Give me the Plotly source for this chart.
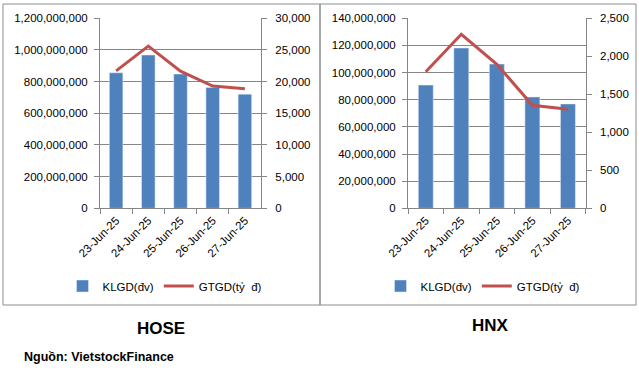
import plotly.graph_objects as go

dates = ["23-Jun-25", "24-Jun-25", "25-Jun-25", "26-Jun-25", "27-Jun-25"]
hose_klgd = [856e6, 968e6, 848e6, 763e6, 721e6]
hose_gtgd = [21700, 25620, 21650, 19300, 18870]
hnx_klgd = [90.8e6, 118.1e6, 106.3e6, 82.0e6, 76.9e6]
hnx_gtgd = [1797, 2289, 1895, 1355, 1303]

W, H = 639, 373
BAR = "#4F81BD"
LINE = "#C0504D"
GRID = "#868686"
FONT = "Liberation Sans"
TF = dict(family=FONT, size=11.5, color="#000000")

def px(x):
    return x / W

def py(y):
    return 1 - y / H

fig = go.Figure()
fig.add_trace(go.Bar(x=dates, y=hose_klgd, name="KLGD(đv)", marker_color=BAR,
                     xaxis="x", yaxis="y", legend="legend"))
fig.add_trace(go.Scatter(x=dates, y=hose_gtgd, name="GTGD(tỷ\u00a0 đ)", mode="lines",
                         line=dict(color=LINE, width=3), xaxis="x", yaxis="y2", legend="legend"))
fig.add_trace(go.Bar(x=dates, y=hnx_klgd, name="KLGD(đv)", marker_color=BAR,
                     xaxis="x2", yaxis="y3", legend="legend2"))
fig.add_trace(go.Scatter(x=dates, y=hnx_gtgd, name="GTGD(tỷ\u00a0 đ)", mode="lines",
                         line=dict(color=LINE, width=3), xaxis="x2", yaxis="y4", legend="legend2"))

xcommon = dict(type="category", showline=True, linecolor=GRID, ticks="outside",
               tickson="boundaries", ticklen=5, tickcolor=GRID, tickangle=-45,
               tickfont=TF, showgrid=False, fixedrange=True, automargin=False)
ycommon = dict(showline=True, linecolor=GRID, ticks="outside", ticklen=5, tickcolor=GRID,
               showgrid=True, gridcolor=GRID, gridwidth=1, tickformat=",", tickfont=TF,
               zeroline=False, ticklabelstandoff=4, automargin=False)

ydom = [py(208.3), py(18.3)]

fig.update_layout(
    width=W, height=H, margin=dict(l=0, r=0, t=0, b=0, autoexpand=False),
    paper_bgcolor="white", plot_bgcolor="white",
    bargap=0.58,
    xaxis=dict(domain=[px(100), px(261)], anchor="y", **xcommon),
    yaxis=dict(domain=ydom, anchor="x", range=[0, 1.2e9], dtick=2e8, **ycommon),
    yaxis2=dict(overlaying="y", anchor="x", side="right", range=[0, 30000], dtick=5000,
                **{**ycommon, "showgrid": False, "ticklabelstandoff": 6}),
    xaxis2=dict(domain=[px(408), px(585.7)], anchor="y3", **xcommon),
    yaxis3=dict(domain=ydom, anchor="x2", range=[0, 140e6], dtick=20e6, **ycommon),
    yaxis4=dict(overlaying="y3", anchor="x2", side="right", range=[0, 2500], dtick=500,
                **{**ycommon, "showgrid": False, "ticklabelstandoff": 6}),
    legend=dict(orientation="h", x=px(165), xanchor="center", y=py(286), yanchor="middle",
                font=TF, bgcolor="rgba(0,0,0,0)", itemwidth=30, tracegroupgap=0),
    legend2=dict(orientation="h", x=px(483), xanchor="center", y=py(286), yanchor="middle",
                 font=TF, bgcolor="rgba(0,0,0,0)", itemwidth=30, tracegroupgap=0),
    shapes=[
        dict(type="rect", xref="paper", yref="paper", x0=px(3), x1=px(320), y0=py(305), y1=py(4),
             line=dict(color="#8C8C8C", width=1)),
        dict(type="rect", xref="paper", yref="paper", x0=px(320), x1=px(636), y0=py(305), y1=py(4),
             line=dict(color="#8C8C8C", width=1)),
    ],
    annotations=[
        dict(text="<b>HOSE</b>", x=px(161), y=py(328), xref="paper", yref="paper",
             showarrow=False, xanchor="center", yanchor="middle",
             font=dict(family="Liberation Sans Narrow, Liberation Sans", size=17, color="#000")),
        dict(text="<b>HNX</b>", x=px(490), y=py(325), xref="paper", yref="paper",
             showarrow=False, xanchor="center", yanchor="middle",
             font=dict(family="Liberation Sans Narrow, Liberation Sans", size=17, color="#000")),
        dict(text="<b>Nguồn: VietstockFinance</b>", x=px(22), y=py(357), xref="paper", yref="paper",
             showarrow=False, xanchor="left", yanchor="middle",
             font=dict(family=FONT, size=12.5, color="#000")),
    ],
)

fig.write_html("out.html", config={"displayModeBar": False},
               post_script="document.body.style.margin='0';document.body.style.overflow='hidden';")
